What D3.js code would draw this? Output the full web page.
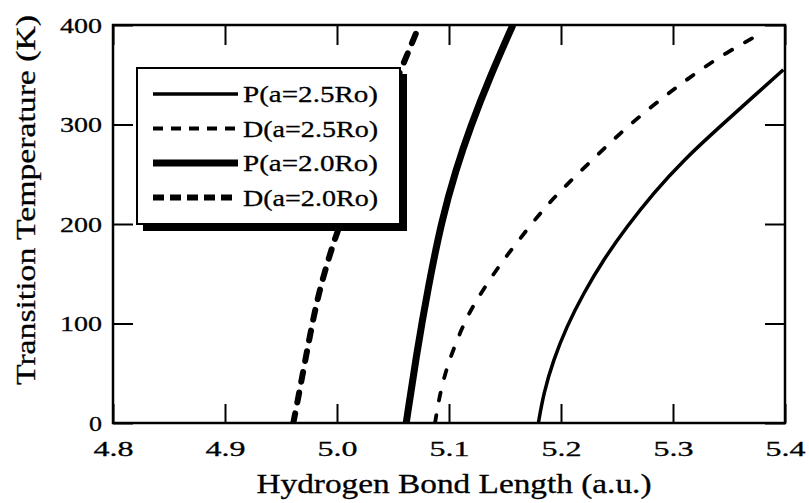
<!DOCTYPE html>
<html>
<head>
<meta charset="utf-8">
<script src="https://cdn.jsdelivr.net/npm/d3@7"></script>
<style>
  body { margin: 0; background: #fff; }
  text { font-family: "Liberation Serif", "Times New Roman", serif; fill: #000; stroke: #000; stroke-width: 0.3px; }
</style>
</head>
<body>
<div id="chart"></div>
<script>
// bond length (a.u.) vs transition temperature (K)
var bondP25 = [5.1798, 5.1845, 5.1931, 5.2051, 5.2199, 5.2378, 5.2586, 5.2824, 5.3092, 5.3420, 5.3717, 5.3985];
var tempP25 = [0, 30, 63, 97, 130, 164, 197, 231, 264, 298, 328, 355];

var bondD25 = [5.0875, 5.0945, 5.1128, 5.1247, 5.1440, 5.1604, 5.1813, 5.2000, 5.2275, 5.2590, 5.2920, 5.3180, 5.3470, 5.3810];
var tempD25 = [0, 47, 100, 124, 157, 181, 211, 234, 264, 298, 328, 350, 372, 393];

var bondP20 = [5.0618, 5.0711, 5.0815, 5.0935, 5.1060, 5.1192, 5.1366, 5.1570];
var tempP20 = [0, 70, 137, 204, 254, 298, 348, 400];

var bondD20 = [4.9610, 4.9655, 4.9745, 4.9815, 4.9885, 4.9958, 5.0002, 5.0290, 5.0593, 5.0736];
var tempD20 = [0, 26, 80, 120, 150, 177, 192, 280, 361, 400];

var seriesNames = ["P(a=2.5Ro)", "D(a=2.5Ro)", "P(a=2.0Ro)", "D(a=2.0Ro)"];
var xTicks = [4.8, 4.9, 5.0, 5.1, 5.2, 5.3, 5.4];
var yTicks = [0, 100, 200, 300, 400];

var W = 809, H = 503;
var margin = {left: 113, right: 24, top: 25, bottom: 80};
var w = W - margin.left - margin.right;
var h = H - margin.top - margin.bottom;

var svg = d3.select("#chart").append("svg")
	.attr("width", W)
	.attr("height", H);

var x = d3.scaleLinear().domain([4.8, 5.4]).range([0, w]);
var y = d3.scaleLinear().domain([0, 400]).range([h, 0]);

var g = svg.append("g")
	.attr("transform", "translate(" + margin.left + "," + margin.top + ")");

svg.append("defs").append("clipPath")
	.attr("id", "plotclip")
	.append("rect")
	.attr("width", w)
	.attr("height", h);

// the printed font is a wide Times, so stretch text to the measured widths
function stretch(sel, len) {
	sel.attr("textLength", len).attr("lengthAdjust", "spacingAndGlyphs");
}

// axes, ticks pointing inward
var xb = g.append("g")
	.attr("transform", "translate(0," + h + ")")
	.call(d3.axisBottom(x).tickValues(xTicks).tickSizeInner(-19).tickSizeOuter(0).tickFormat(d3.format(".1f")));
xb.selectAll("text")
	.attr("y", 33).attr("dy", 0)
	.style("font-size", "21px")
	.call(stretch, 40);

var yl = g.append("g")
	.call(d3.axisLeft(y).tickValues(yTicks).tickSizeInner(-20).tickSizeOuter(0));
yl.selectAll("text")
	.attr("x", -11).attr("dy", "0.34em")
	.style("font-size", "21px")
	.each(function(d) { d3.select(this).call(stretch, d === 0 ? 13 : 42); });

g.append("g")
	.call(d3.axisTop(x).tickValues(xTicks).tickSizeInner(-20).tickSizeOuter(0).tickFormat(""));
g.append("g")
	.attr("transform", "translate(" + w + ",0)")
	.call(d3.axisRight(y).tickValues(yTicks).tickSizeInner(-20).tickSizeOuter(0).tickFormat(""));

g.selectAll(".domain").remove();
g.selectAll(".tick line").attr("stroke", "#000").attr("stroke-width", 2);

// curves
var series = [
	{bond: bondP25, temp: tempP25, width: 3.5, dash: null, cap: "butt", ldash: null},
	{bond: bondD25, temp: tempD25, width: 3.8, dash: "8,15", cap: "round", ldash: "10,8"},
	{bond: bondP20, temp: tempP20, width: 7, dash: null, cap: "butt", ldash: null},
	{bond: bondD20, temp: tempD20, width: 6, dash: "10,11", cap: "round", ldash: "11,6"}
];

var line = d3.line()
	.x(function(d) { return x(d[0]); })
	.y(function(d) { return y(d[1]); })
	.curve(d3.curveBasis);

g.append("g")
	.attr("clip-path", "url(#plotclip)")
	.selectAll("path")
	.data(series)
	.enter().append("path")
		.attr("d", function(s) { return line(d3.zip(s.bond, s.temp)); })
		.attr("fill", "none")
		.attr("stroke", "#000")
		.attr("stroke-width", function(s) { return s.width; })
		.attr("stroke-dasharray", function(s) { return s.dash; })
		.attr("stroke-linecap", function(s) { return s.cap; });

// frame
g.append("rect")
	.attr("width", w)
	.attr("height", h)
	.attr("fill", "none")
	.attr("stroke", "#000")
	.attr("stroke-width", 2.5);

// legend with drop shadow
var lg = svg.append("g").attr("transform", "translate(137,68)");
lg.append("rect")
	.attr("x", 6).attr("y", 6)
	.attr("width", 264).attr("height", 157)
	.attr("fill", "#000");
lg.append("rect")
	.attr("width", 263).attr("height", 156)
	.attr("fill", "#fff")
	.attr("stroke", "#000")
	.attr("stroke-width", 2);

var rows = lg.selectAll(".row")
	.data(series)
	.enter().append("g")
		.attr("transform", function(s, i) { return "translate(0," + (26 + i * 34.5) + ")"; });
rows.append("line")
	.attr("x1", 16).attr("x2", 101)
	.attr("stroke", "#000")
	.attr("stroke-width", function(s) { return s.width; })
	.attr("stroke-dasharray", function(s) { return s.ldash; });
rows.append("text")
	.attr("x", 106)
	.attr("dy", "0.35em")
	.style("font-size", "24px")
	.text(function(s, i) { return seriesNames[i]; })
	.call(stretch, 135);

// axis titles
svg.append("text")
	.attr("x", 454)
	.attr("y", 493)
	.attr("text-anchor", "middle")
	.style("font-size", "27px")
	.text("Hydrogen Bond Length (a.u.)")
	.call(stretch, 395);

svg.append("text")
	.attr("transform", "translate(35,200) rotate(-90)")
	.attr("text-anchor", "middle")
	.style("font-size", "27px")
	.text("Transition Temperature (K)")
	.call(stretch, 370);
</script>
</body>
</html>
